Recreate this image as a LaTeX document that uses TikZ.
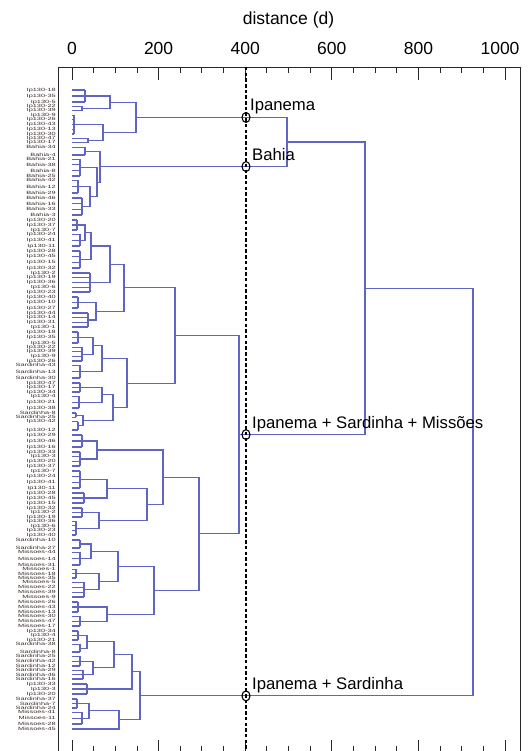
\documentclass[tikz,border=0pt]{standalone}
\usepackage{fontspec}
\setmainfont{Liberation Sans}
\usetikzlibrary{calc,shapes.geometric}
\definecolor{dendro}{RGB}{96,100,194}
\definecolor{lblc}{RGB}{55,42,42}
\newcounter{leafc}
\tikzset{
  br/.style={draw=dendro, line width=1.1pt},
  lbl/.style={anchor=east, inner sep=0pt, font=\fontsize{4.6}{4.6}\selectfont, text=lblc},
  ann/.style={anchor=base west, inner sep=0pt, font=\fontsize{16.7}{20}\selectfont},
  axl/.style={anchor=base, inner sep=0pt, font=\fontsize{17.5}{20}\selectfont},
  ring/.style={draw=black, ellipse, line width=1.1pt, minimum width=8pt, minimum height=10pt, inner sep=0pt},
  cutline/.style={draw=black, line width=1.6pt, dash pattern=on 3.5pt off 2.2pt},
  frameline/.style={draw=black!85, line width=0.9pt},
}
% group of leaves: name, ytop, ybot, height, prefix
\newcommand\grp[5]{%
  \pgfmathtruncatemacro\gn{max(floor((#3-#2)/4.3),1)}%
  \pgfmathsetmacro\gs{(#3-#2)/\gn}%
  \foreach \k in {0,...,\gn}{%
    \pgfmathsetmacro\yy{#2+\k*\gs}%
    \stepcounter{leafc}%
    \pgfmathtruncatemacro\num{mod(\the\value{leafc}*17,47)+1}%
    \draw[br] (72,\yy) -- (#4,\yy);
    \node[lbl] at (56,\yy) {\scalebox{1.6}[1]{#5-\num}};
  }%
  \draw[br] (#4,#2) -- (#4,#3);
  \coordinate (#1) at (#4,{(#2+#3)/2});
}
% single leaf: name, y, prefix
\newcommand\leaf[3]{%
  \stepcounter{leafc}%
  \pgfmathtruncatemacro\num{mod(\the\value{leafc}*17,47)+1}%
  \coordinate (#1) at (72,#2);
  \node[lbl] at (56,#2) {\scalebox{1.6}[1]{#3-\num}};
}
% merge: name, child1, child2, height
\newcommand\mrg[4]{%
  \path let \p1=(#2), \p2=(#3) in coordinate (#1) at (#4pt,{(\y1+\y2)/2});
  \draw[br] (#2) -| (#1) |- (#3);
}
\begin{document}
\begin{tikzpicture}[x=1pt,y=-1pt]
\useasboundingbox (0,0) rectangle (527,751);
% frame and ticks
\draw[frameline] (58,760) -- (58,67) -- (520,67) -- (520,760);
\foreach \d in {0,50,...,1000}{
  \pgfmathsetmacro\tx{72+0.433*\d}
  \pgfmathtruncatemacro\ismaj{mod(\d,200)==0 ? 1 : 0}
  \ifnum\ismaj=1
    \draw[frameline] (\tx,67) -- (\tx,80);
    \draw[frameline] (\tx,751) -- (\tx,740);
  \else
    \draw[frameline] (\tx,67) -- (\tx,73);
    \draw[frameline] (\tx,751) -- (\tx,746);
  \fi
}
\node[axl] (xt0) at (72,55) {0};
\node[axl] (xt200) at (158.6,55) {200};
\node[axl] (xt400) at (245.2,55) {400};
\node[axl] (xt600) at (331.8,55) {600};
\node[axl] (xt800) at (418.4,55) {800};
\node[axl] (xt1000) at (500,55) {1000};
\node[axl] (xtitle) at (288.5,25) {distance (d)};

% ---------- Ipanema
\grp{a}{90}{102}{85}{Ip130}
\grp{b}{106.5}{110.8}{82}{Ip130}
\mrg{I1}{a}{b}{110}
\grp{c}{115.1}{134}{74}{Ip130}
\grp{d}{138.5}{142.8}{88}{Ip130}
\mrg{I2}{c}{d}{103}
\mrg{I}{I1}{I2}{136}
% ---------- Bahia
\grp{b1}{147.2}{155}{85}{Bahia}
\grp{e}{159.3}{176}{80}{Bahia}
\grp{f1}{180.3}{193}{78}{Bahia}
\grp{f2}{198}{215}{82}{Bahia}
\mrg{f}{f1}{f2}{90}
\mrg{B2}{e}{f}{97}
\mrg{B}{b1}{B2}{100}
% ---------- Ipanema + Sardinha + Missoes
\grp{h1a}{220}{230}{77}{Ip130}
\grp{h1b}{234.3}{246}{80}{Ip130}
\mrg{h1}{h1a}{h1b}{85}
\grp{h2}{251}{268}{80}{Ip130}
\mrg{M1111}{h1}{h2}{91}
\grp{M1112}{273}{292}{90}{Ip130}
\mrg{M111}{M1111}{M1112}{110}
\grp{m2a}{297}{308}{78}{Ip130}
\grp{m2b}{313}{327}{88}{Ip130}
\mrg{M112}{m2a}{m2b}{96}
\mrg{M11}{M111}{M112}{124}
\grp{k1a}{332}{343}{78}{Ip130}
\grp{k1b}{347.3}{361}{82}{Ip130}
\mrg{k1}{k1a}{k1b}{93}
\grp{k2}{365.3}{378}{80}{Sardinha}
\mrg{M121}{k1}{k2}{102}
\grp{k3a}{383}{392}{80}{Ip130}
\grp{k3b}{396.3}{408}{79}{Ip130}
\mrg{k3}{k3a}{k3b}{102}
\grp{k4a}{413}{417.3}{76}{Sardinha}
\grp{k4b}{421.6}{430}{78}{Ip130}
\mrg{k4}{k4a}{k4b}{83}
\mrg{M122}{k3}{k4}{113}
\mrg{M12}{M121}{M122}{127}
\mrg{M1}{M11}{M12}{175}
\grp{n1}{435}{447}{82}{Ip130}
\grp{n2}{452}{466}{80}{Ip130}
\mrg{M211}{n1}{n2}{97}
\grp{n3a}{471}{488}{80}{Ip130}
\grp{n3b}{493}{503}{84}{Ip130}
\mrg{n3}{n3a}{n3b}{107}
\grp{n4a}{508}{517}{82}{Ip130}
\grp{n4b}{521.3}{535}{76}{Ip130}
\mrg{n4}{n4a}{n4b}{99}
\mrg{M212}{n3}{n4}{147}
\mrg{M21}{M211}{M212}{163}
\grp{p1a}{540}{548}{80}{Sardinha}
\grp{p1b}{552.3}{565}{80}{Missoes}
\mrg{p1}{p1a}{p1b}{91}
\grp{p2a}{569.3}{578}{76}{Missoes}
\grp{p2b}{582.3}{597}{84}{Missoes}
\mrg{p2}{p2a}{p2b}{99}
\mrg{M221}{p1}{p2}{118}
\grp{q0a}{602}{612}{78}{Missoes}
\grp{q0b}{616.3}{626}{80}{Missoes}
\mrg{M222}{q0a}{q0b}{107}
\mrg{M22}{M221}{M222}{154}
\mrg{M2}{M21}{M22}{199}
\mrg{M}{M1}{M2}{239}
% ---------- Ipanema + Sardinha
\grp{q1a}{631}{640}{78}{Ip130}
\grp{q1b}{644.3}{652}{80}{Sardinha}
\mrg{q1}{q1a}{q1b}{87}
\grp{q2a}{656.3}{666}{80}{Sardinha}
\grp{q2b}{670.3}{679}{83}{Sardinha}
\mrg{q2}{q2a}{q2b}{93}
\mrg{S11}{q1}{q2}{114}
\grp{S12}{684}{694}{87}{Ip130}
\mrg{S1}{S11}{S12}{132}
\grp{r1a}{699}{708}{77}{Sardinha}
\grp{r1b}{712.3}{724}{82}{Missoes}
\mrg{r1}{r1a}{r1b}{89}
\leaf{r2}{729}{Missoes}
\mrg{S2}{r1}{r2}{119}
\mrg{S}{S1}{S2}{140}
% ---------- top levels
\mrg{IB}{I}{B}{287}
\mrg{IBM}{IB}{M}{365}
\mrg{R}{IBM}{S}{473}

% cut line
\coordinate (dtop) at (246,67);
\coordinate (dbot) at (246,751);
\draw[cutline] (dtop) -- (dbot);
\node[ring] (cI) at (dtop |- I) {};
\node[ring] (cB) at (dtop |- B) {};
\node[ring] (cM) at (dtop |- M) {};
\node[ring] (cS) at (dtop |- S) {};
\node[ann] (tI) at ($(cI.north)+(4,-1)$) {Ipanema};
\node[ann] (tB) at ($(cB.north)+(6,-1)$) {Bahia};
\node[ann] (tM) at ($(cM.north)+(6,-1)$) {Ipanema + Sardinha + Missões};
\node[ann] (tS) at ($(cS.north)+(6,-1)$) {Ipanema + Sardinha};
\end{tikzpicture}
\end{document}
